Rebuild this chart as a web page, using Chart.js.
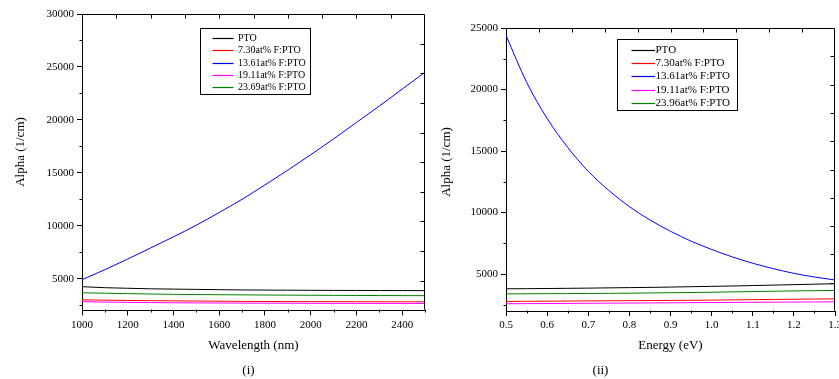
<!DOCTYPE html>
<html><head><meta charset="utf-8">
<script src="https://cdn.jsdelivr.net/npm/chart.js@4.4.1/dist/chart.umd.min.js"></script>
<style>
html,body{margin:0;padding:0;background:#fff;width:839px;height:379px;overflow:hidden}
canvas{position:absolute;top:0}
#c1{left:0}
#c2{left:430px}
</style></head><body>
<canvas id="c1" width="470" height="379"></canvas>
<canvas id="c2" width="409" height="379"></canvas>
<script>
// ---------- Data: panel (i) Alpha vs Wavelength ----------
const wavelength = [1000,1100,1200,1300,1400,1500,1600,1700,1800,1900,2000,2100,2200,2300,2400,2500];
const wlPTO    = [4240,4145,4090,4038,4010,3985,3958,3933,3920,3908,3898,3890,3884,3878,3873,3868];
const wlF730   = [3000,2965,2940,2920,2900,2885,2865,2852,2842,2835,2830,2825,2820,2816,2813,2810];
const wlF1361  = [4900,5850,6850,7900,8950,10050,11250,12500,13850,15250,16700,18200,19750,21300,22900,24500];
const wlF1911  = [2830,2785,2760,2740,2722,2708,2697,2688,2681,2675,2670,2666,2662,2659,2656,2653];
const wlF2369  = [3665,3625,3585,3548,3518,3497,3480,3466,3453,3441,3430,3420,3411,3403,3396,3390];

// ---------- Data: panel (ii) Alpha vs Energy ----------
const energy   = [0.50,0.55,0.60,0.65,0.70,0.75,0.80,0.85,0.90,0.95,1.00,1.05,1.10,1.15,1.20,1.25,1.30];
const ePTO     = [3805,3815,3828,3843,3860,3880,3900,3920,3945,3975,4002,4032,4068,4105,4142,4180,4215];
const eF730    = [2775,2790,2800,2810,2820,2830,2840,2850,2860,2871,2886,2903,2922,2940,2956,2972,2988];
const eF1361   = [24400,20600,17650,15300,13350,11800,10480,9400,8480,7680,7000,6400,5880,5440,5060,4760,4520];
const eF1911   = [2590,2600,2608,2617,2628,2638,2648,2658,2667,2677,2686,2697,2708,2718,2727,2735,2742];
const eF2396   = [3390,3397,3405,3414,3424,3435,3450,3467,3485,3503,3527,3552,3580,3607,3632,3652,3670];

// ---------- Labels & ticks ----------
const labelsLeft  = ['PTO','7.30at% F:PTO','13.61at% F:PTO','19.11at% F:PTO','23.69at% F:PTO'];
const labelsRight = ['PTO','7.30at% F:PTO','13.61at% F:PTO','19.11at% F:PTO','23.96at% F:PTO'];
const seriesColors = ['#000000','#ff0000','#0000ff','#ff00ff','#008000'];
const xTicksLeft  = [1000,1200,1400,1600,1800,2000,2200,2400];
const yTicksLeft  = [5000,10000,15000,20000,25000,30000];
const xTicksRight = [0.5,0.6,0.7,0.8,0.9,1.0,1.1,1.2,1.3];
const yTicksRight = [5000,10000,15000,20000,25000];
const yTitle = 'Alpha (1/cm)';

const FONT = 'Liberation Serif';
Chart.defaults.font.family = FONT;
Chart.defaults.color = '#000';

function pts(xs, ys){ return xs.map((x,i)=>({x:x, y:ys[i]})); }

function makeDatasets(xs, series, labels){
  return series.map((ys,i)=>({
    label: labels[i], data: pts(xs, ys),
    borderColor: seriesColors[i], backgroundColor: seriesColors[i],
    borderWidth: 1, pointRadius: 0, fill: false,
    cubicInterpolationMode: 'monotone'
  }));
}

const frameTicks = {
  id: 'frameTicks',
  afterDraw(chart){
    const {ctx, chartArea:a, scales:{x, y}} = chart;
    const L = Math.round(a.left)+0.5, R = Math.round(a.right)-0.5;
    const T = Math.round(a.top)+0.5, B = Math.round(a.bottom)-0.5;
    ctx.save();
    ctx.strokeStyle = '#000'; ctx.lineWidth = 1;
    ctx.beginPath();
    ctx.moveTo(L, T); ctx.lineTo(R, T); ctx.lineTo(R, B);
    for (let i=1;i<10;i++){
      const px = Math.round(a.left + i*(a.right-a.left)/10)+0.5;
      ctx.moveTo(px, T); ctx.lineTo(px, T+4);
      const py = Math.round(a.top + i*(a.bottom-a.top)/10)+0.5;
      ctx.moveTo(R, py); ctx.lineTo(R-4, py);
    }
    const xt = x.ticks.map(t=>t.value), sx = xt[1]-xt[0];
    for (let v = xt[0]-sx/2; v <= x.max+1e-9; v += sx){
      if (v < x.min-1e-9) continue;
      const px = Math.round(x.getPixelForValue(v))+0.5;
      ctx.moveTo(px, B); ctx.lineTo(px, B+3);
    }
    const yt = y.ticks.map(t=>t.value), sy = yt[1]-yt[0];
    for (let v = yt[0]-sy/2; v <= y.max+1e-9; v += sy){
      if (v < y.min-1e-9) continue;
      const py = Math.round(y.getPixelForValue(v))+0.5;
      ctx.moveTo(L, py); ctx.lineTo(L-3, py);
    }
    ctx.stroke();
    ctx.restore();
  }
};

const boxLegend = {
  id: 'boxLegend',
  afterDraw(chart, args, o){
    const ctx = chart.ctx;
    ctx.save();
    ctx.fillStyle = '#fff';
    ctx.fillRect(o.x, o.y, o.w, o.h);
    ctx.strokeStyle = '#000'; ctx.lineWidth = 1;
    ctx.strokeRect(Math.round(o.x)+0.5, Math.round(o.y)+0.5, Math.round(o.w), Math.round(o.h));
    ctx.font = o.size + 'px "' + FONT + '"';
    ctx.textBaseline = 'middle'; ctx.textAlign = 'left';
    chart.data.datasets.forEach((ds,i)=>{
      const yy = Math.round(o.row0 + i*o.step)+0.5;
      ctx.strokeStyle = ds.borderColor;
      ctx.lineWidth = 1.2;
      ctx.beginPath(); ctx.moveTo(o.l0, yy); ctx.lineTo(o.l1, yy); ctx.stroke();
      ctx.fillStyle = '#000';
      ctx.fillText(ds.label, o.tx, yy);
    });
    ctx.restore();
  }
};

const captions = {
  id: 'captions',
  afterDraw(chart, args, o){
    const ctx = chart.ctx;
    ctx.save();
    ctx.font = '13px "' + FONT + '"';
    ctx.fillStyle = '#000'; ctx.textAlign = 'center'; ctx.textBaseline = 'middle';
    o.items.forEach(it=>{
      ctx.save();
      ctx.translate(it.x, it.y);
      if (it.rot) ctx.rotate(it.rot);
      ctx.fillText(it.text, 0, 0);
      ctx.restore();
    });
    ctx.restore();
  }
};

function axis(min, max, ticksArr, fmt, extra){
  return Object.assign({
    type: 'linear', min: min, max: max,
    afterBuildTicks: s => { s.ticks = ticksArr.map(v=>({value:v})); },
    ticks: { font:{family:FONT, size:11}, color:'#000', maxRotation:0, autoSkip:false, callback: fmt, padding:3 },
    grid: { drawOnChartArea:false, drawTicks:true, tickLength:5, color:'#000', lineWidth:1 },
    border: { display:true, color:'#000', width:1 }
  }, extra);
}

function makeChart(id, xs, series, labels, cfg){
  return new Chart(document.getElementById(id), {
    type: 'line',
    data: { datasets: makeDatasets(xs, series, labels) },
    options: {
      responsive: false, animation: false, devicePixelRatio: 1,
      layout: { padding: cfg.padding },
      plugins: {
        legend: { display:false }, tooltip: { enabled:false },
        boxLegend: cfg.legend,
        captions: { items: cfg.captions }
      },
      scales: {
        x: axis(cfg.xmin, cfg.xmax, cfg.xticks, cfg.xfmt, {
          afterFit: s => { s.height = cfg.xh; s.paddingLeft = 0; s.paddingRight = 0; },
          title: { display:true, text:cfg.xtitle, color:'#000', font:{family:FONT, size:13}, padding:{top:0, bottom:cfg.xtp} }
        }),
        y: axis(cfg.ymin, cfg.ymax, cfg.yticks, v=>String(v), {
          afterFit: s => { s.width = cfg.yw; s.paddingTop = 0; s.paddingBottom = 0; }
        })
      }
    },
    plugins: [frameTicks, boxLegend, captions]
  });
}

makeChart('c1', wavelength, [wlPTO, wlF730, wlF1361, wlF1911, wlF2369], labelsLeft, {
  padding: {left:0, right:45, top:14, bottom:18.6},
  xmin:1000, xmax:2500, xticks:xTicksLeft, xfmt: v=>String(v), xtitle:'Wavelength (nm)', xh:50, xtp:7,
  ymin:2000, ymax:30000, yticks:yTicksLeft, yw:82,
  legend: {x:200, y:28, w:110, h:66, row0:38, step:12.3, l0:212.5, l1:233.5, tx:238, size:10},
  captions: [
    {text:'(i)', x:248.5, y:370.5},
    {text:yTitle, x:20.7, y:152, rot:-Math.PI/2}
  ]
});

makeChart('c2', energy, [ePTO, eF730, eF1361, eF1911, eF2396], labelsRight, {
  padding: {left:0, right:4, top:28, bottom:18.6},
  xmin:0.5, xmax:1.3, xticks:xTicksRight, xfmt: v=>Number(v).toFixed(1), xtitle:'Energy (eV)', xh:49.4, xtp:6.6,
  ymin:2000, ymax:25000, yticks:yTicksRight, yw:76,
  legend: {x:186.5, y:39, w:119.5, h:71, row0:50, step:13.2, l0:201.5, l1:225, tx:225.5, size:11},
  captions: [
    {text:'(ii)', x:170.5, y:370.5},
    {text:yTitle, x:16.7, y:162, rot:-Math.PI/2}
  ]
});
</script>
</body></html>
